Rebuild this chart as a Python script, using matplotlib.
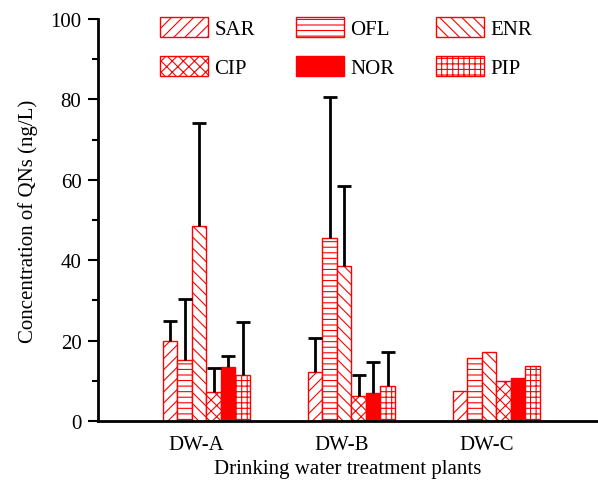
import numpy as np
import matplotlib
matplotlib.use('Agg')
import matplotlib.pyplot as plt

plt.rcParams['font.family'] = 'Liberation Serif'
plt.rcParams['font.size'] = 15
plt.rcParams['hatch.linewidth'] = 0.8

plants = ['DW-A', 'DW-B', 'DW-C']
compounds = ['SAR', 'OFL', 'ENR', 'CIP', 'NOR', 'PIP']

# mean concentration (ng/L) per compound, in order DW-A, DW-B, DW-C
sar = [19.9, 12.2, 7.4]
ofl = [15.2, 45.5, 15.7]
enr = [48.5, 38.6, 17.1]
cip = [7.2, 6.2, 10.0]
nor = [13.4, 7.0, 10.7]
pip = [11.4, 8.7, 13.7]

# upper error (ng/L), 0 = no error bar
sar_err = [5.0, 8.4, 0]
ofl_err = [15.1, 35.0, 0]
enr_err = [25.6, 19.9, 0]
cip_err = [6.0, 5.2, 0]
nor_err = [2.8, 7.7, 0]
pip_err = [13.2, 8.5, 0]

values = [sar, ofl, enr, cip, nor, pip]
errors = [sar_err, ofl_err, enr_err, cip_err, nor_err, pip_err]
hatches = ['///', '---', '\\\\\\', 'xxx', '', '+++']

fig = plt.figure(figsize=(5.98, 4.81), dpi=100)
ax = fig.add_axes([0.164, 0.1227, 0.836, 0.836])

barWidth = 0.1
x = np.arange(len(plants))
handles = []
for k in range(len(compounds)):
    pos = x - 0.18 + k * barWidth
    face = 'red' if hatches[k] == '' else 'white'
    b = ax.bar(pos, values[k], width=barWidth, color=face, edgecolor='red',
               hatch=hatches[k], linewidth=1, label=compounds[k], zorder=2)
    handles.append(b)
    err = np.array(errors[k])
    m = err > 0
    top = np.array(values[k])[m]
    eb = ax.errorbar(pos[m], top, yerr=[np.zeros(m.sum()), err[m]], fmt='none',
                     ecolor='black', elinewidth=2, capsize=5, capthick=2, zorder=3)
    # only the upper cap is shown
    for cap in eb[1]:
        if np.allclose(cap.get_ydata(), top):
            cap.set_visible(False)

ax.set_ylim(0, 100)
ax.set_xlim(-0.676, 2.77)
ax.set_yticks(np.arange(0, 101, 20))
ax.set_yticks(np.arange(10, 100, 20), minor=True)
ax.set_xticks(x)
ax.set_xticklabels(plants)
ax.tick_params(axis='y', which='major', direction='out', length=7, width=1.5, pad=5)
ax.tick_params(axis='y', which='minor', direction='out', length=4, width=1.5)
ax.tick_params(axis='x', length=0, pad=10)

for s in ['top', 'right']:
    ax.spines[s].set_visible(False)
for s in ['left', 'bottom']:
    ax.spines[s].set_linewidth(2)

ax.set_ylabel('Concentration of QNs (ng/L)', labelpad=9)
ax.set_xlabel('Drinking water treatment plants', labelpad=4)

# legend filled row by row: SAR OFL ENR / CIP NOR PIP
order = [0, 3, 1, 4, 2, 5]
ax.legend(handles=[handles[i] for i in order], ncol=3, frameon=False, loc='upper left',
          bbox_to_anchor=(160 / 598, 1 - 18 / 481), bbox_transform=fig.transFigure,
          borderpad=0, borderaxespad=0, handlelength=2.3, handleheight=1.1,
          handletextpad=0.3, columnspacing=2.0, labelspacing=0.8)

plt.savefig('out.png', dpi=100)
